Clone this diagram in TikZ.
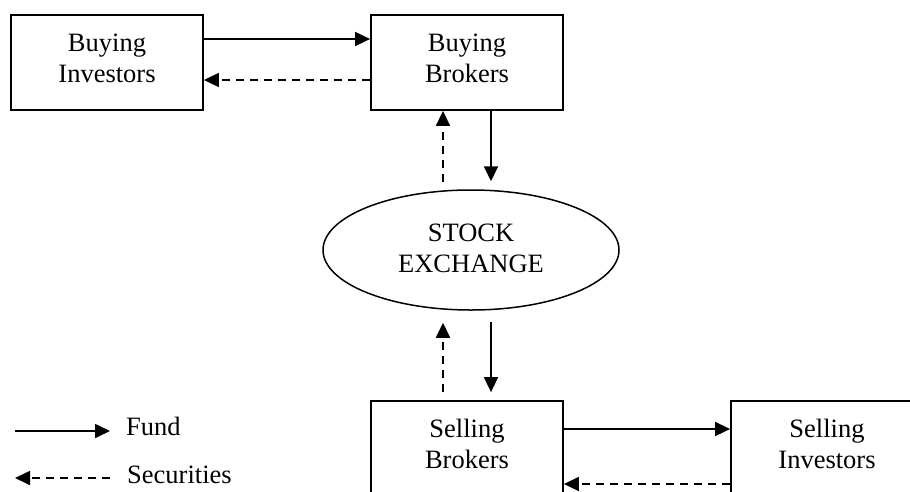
\documentclass[tikz,border=0pt]{standalone}
\usepackage{fontspec}
\setmainfont{Liberation Serif}
\usetikzlibrary{arrows.meta,calc,shapes.geometric}

\tikzset{
  lbl/.style={align=center,inner sep=0pt,font=\fontsize{26.5}{31}\selectfont},
  boxnode/.style={draw,line width=1.8pt,minimum width=192pt,minimum height=95pt,inner sep=0pt},
  oval/.style={draw,ellipse,line width=1.5pt,minimum width=296pt,minimum height=120pt,inner sep=0pt},
  fund/.style={line width=1.7pt,-{Triangle[length=15pt,width=14pt]}},
  secur/.style={line width=1.7pt,dash pattern=on 8pt off 6pt,-{Triangle[length=15pt,width=14pt]}},
}

\begin{document}
\begin{tikzpicture}[x=1pt,y=-1pt]
  \useasboundingbox (0,0) rectangle (910,491);
  \clip (0,0) rectangle (910,491);

  % participants
  \node[boxnode] (bi) at (107,62.5) {};
  \node[boxnode] (bb) at (467,62.5) {};
  \node[oval]    (se) at (471,250) {};
  \node[boxnode] (sb) at (467,448.5) {};
  \node[boxnode] (si) at (827,448.5) {};

  \node[lbl] (tbi) at ($(bi.center)+(0,-4)$) {Buying\\Investors};
  \node[lbl] (tbb) at ($(bb.center)+(0,-4)$) {Buying\\Brokers};
  \node[lbl] (tse) at ($(se.center)+(0,-2)$) {STOCK\\EXCHANGE};
  \node[lbl] (tsb) at ($(sb.center)+(0,-5)$) {Selling\\Brokers};
  \node[lbl] (tsi) at ($(si.center)+(0,-5)$) {Selling\\Investors};

  % flows between investors and brokers
  \draw[fund]  ($(bi.east)+(0,-23.5)$) -- ($(bb.west)+(0,-23.5)$);
  \draw[secur] ($(bb.west)+(0,17.5)$) -- ($(bi.east)+(0,17.5)$);
  \draw[fund]  ($(sb.east)+(0,-19.5)$) -- ($(si.west)+(0,-19.5)$);
  \draw[secur] ($(si.west)+(0,35.5)$) -- ($(sb.east)+(0,35.5)$);

  % flows to and from the exchange
  \draw[fund]  ($(bb.south)+(24,0)$) -- ($(se.north)+(20,-8)$);
  \draw[secur] ($(se.north)+(-28,-7)$) -- ($(bb.south)+(-24,0)$);
  \draw[fund]  ($(se.south)+(20,11)$) -- ($(sb.north)+(24,-8)$);
  \draw[secur] ($(sb.north)+(-24,-8)$) -- ($(se.south)+(-28,12)$);

  % legend
  \coordinate (fa) at (15,431);
  \coordinate (fb) at (110,431);
  \coordinate (sa) at (110,478);
  \coordinate (sc) at (15,478);
  \draw[fund]  (fa) -- (fb);
  \draw[secur] (sa) -- (sc);
  \node[lbl,anchor=base west] (lf) at (126,435) {Fund};
  \node[lbl,anchor=base west] (ls) at (127,483) {Securities};
\end{tikzpicture}
\end{document}
